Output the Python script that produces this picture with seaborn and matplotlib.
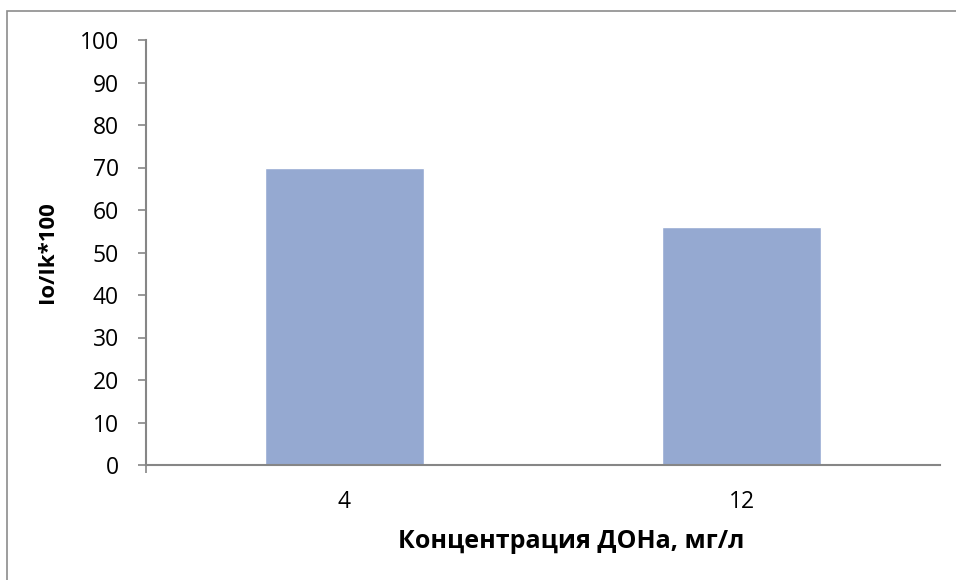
import matplotlib
matplotlib.use("Agg")
import matplotlib.pyplot as plt
import seaborn as sns
import pandas as pd
from matplotlib.patches import Rectangle
from matplotlib.ticker import FixedLocator

# data
concentrations = ["4", "12"]
ratio_values = [70, 56]
y_ticks = list(range(0, 101, 10))

x_title = "Концентрация ДОНа, мг/л"
y_title = "Io/Ik*100"

sns.set_style("white")
plt.rcParams['font.family'] = ['Open Sans', 'DejaVu Sans']

W, H = 956, 580
fig = plt.figure(figsize=(W / 100, H / 100), dpi=100)
fig.patch.set_facecolor("white")

# outer chart frame (cropped on right/bottom like the reference)
fig.patches.append(Rectangle((7 / W, -0.05), 1.1, 1 - 11 / H + 0.05,
                             transform=fig.transFigure, fill=False,
                             edgecolor="#8c8c8c", linewidth=1.2))

ax = fig.add_axes([146 / W, (H - 465) / H, (940 - 146) / W, (465 - 40) / H])

df = pd.DataFrame({"conc": concentrations, "ratio": ratio_values})
sns.barplot(data=df, x="conc", y="ratio", order=concentrations,
            color="#95a9d1", saturation=1, width=0.4, ax=ax)

ax.set_xlim(-0.5, 1.5)
ax.set_ylim(0, 100)
ax.set_yticks(y_ticks)

grey = "#868686"
for s in ["top", "right"]:
    ax.spines[s].set_visible(False)
for s in ["left", "bottom"]:
    ax.spines[s].set_color(grey)
    ax.spines[s].set_linewidth(1.5)

ax.tick_params(axis="y", direction="out", length=5.5, width=1.2, color=grey,
               left=True, pad=14, labelsize=16.5, labelcolor="black")
ax.tick_params(axis="x", which="major", length=0, pad=18, labelsize=16.5,
               labelcolor="black")
ax.xaxis.set_minor_locator(FixedLocator([-0.5]))
ax.tick_params(axis="x", which="minor", direction="out", length=5.5,
               width=1.2, color=grey, bottom=True)

ax.set_xlabel("")
ax.set_ylabel(y_title, fontsize=16, fontweight="bold", color="black")
ax.yaxis.set_label_coords((58 - 146) / (940 - 146), 0.5)

fig.text(571 / W, 1 - 542 / H, x_title, ha="center", va="center",
         fontsize=18, fontweight="bold", color="black")

fig.savefig("out.png", dpi=100)
